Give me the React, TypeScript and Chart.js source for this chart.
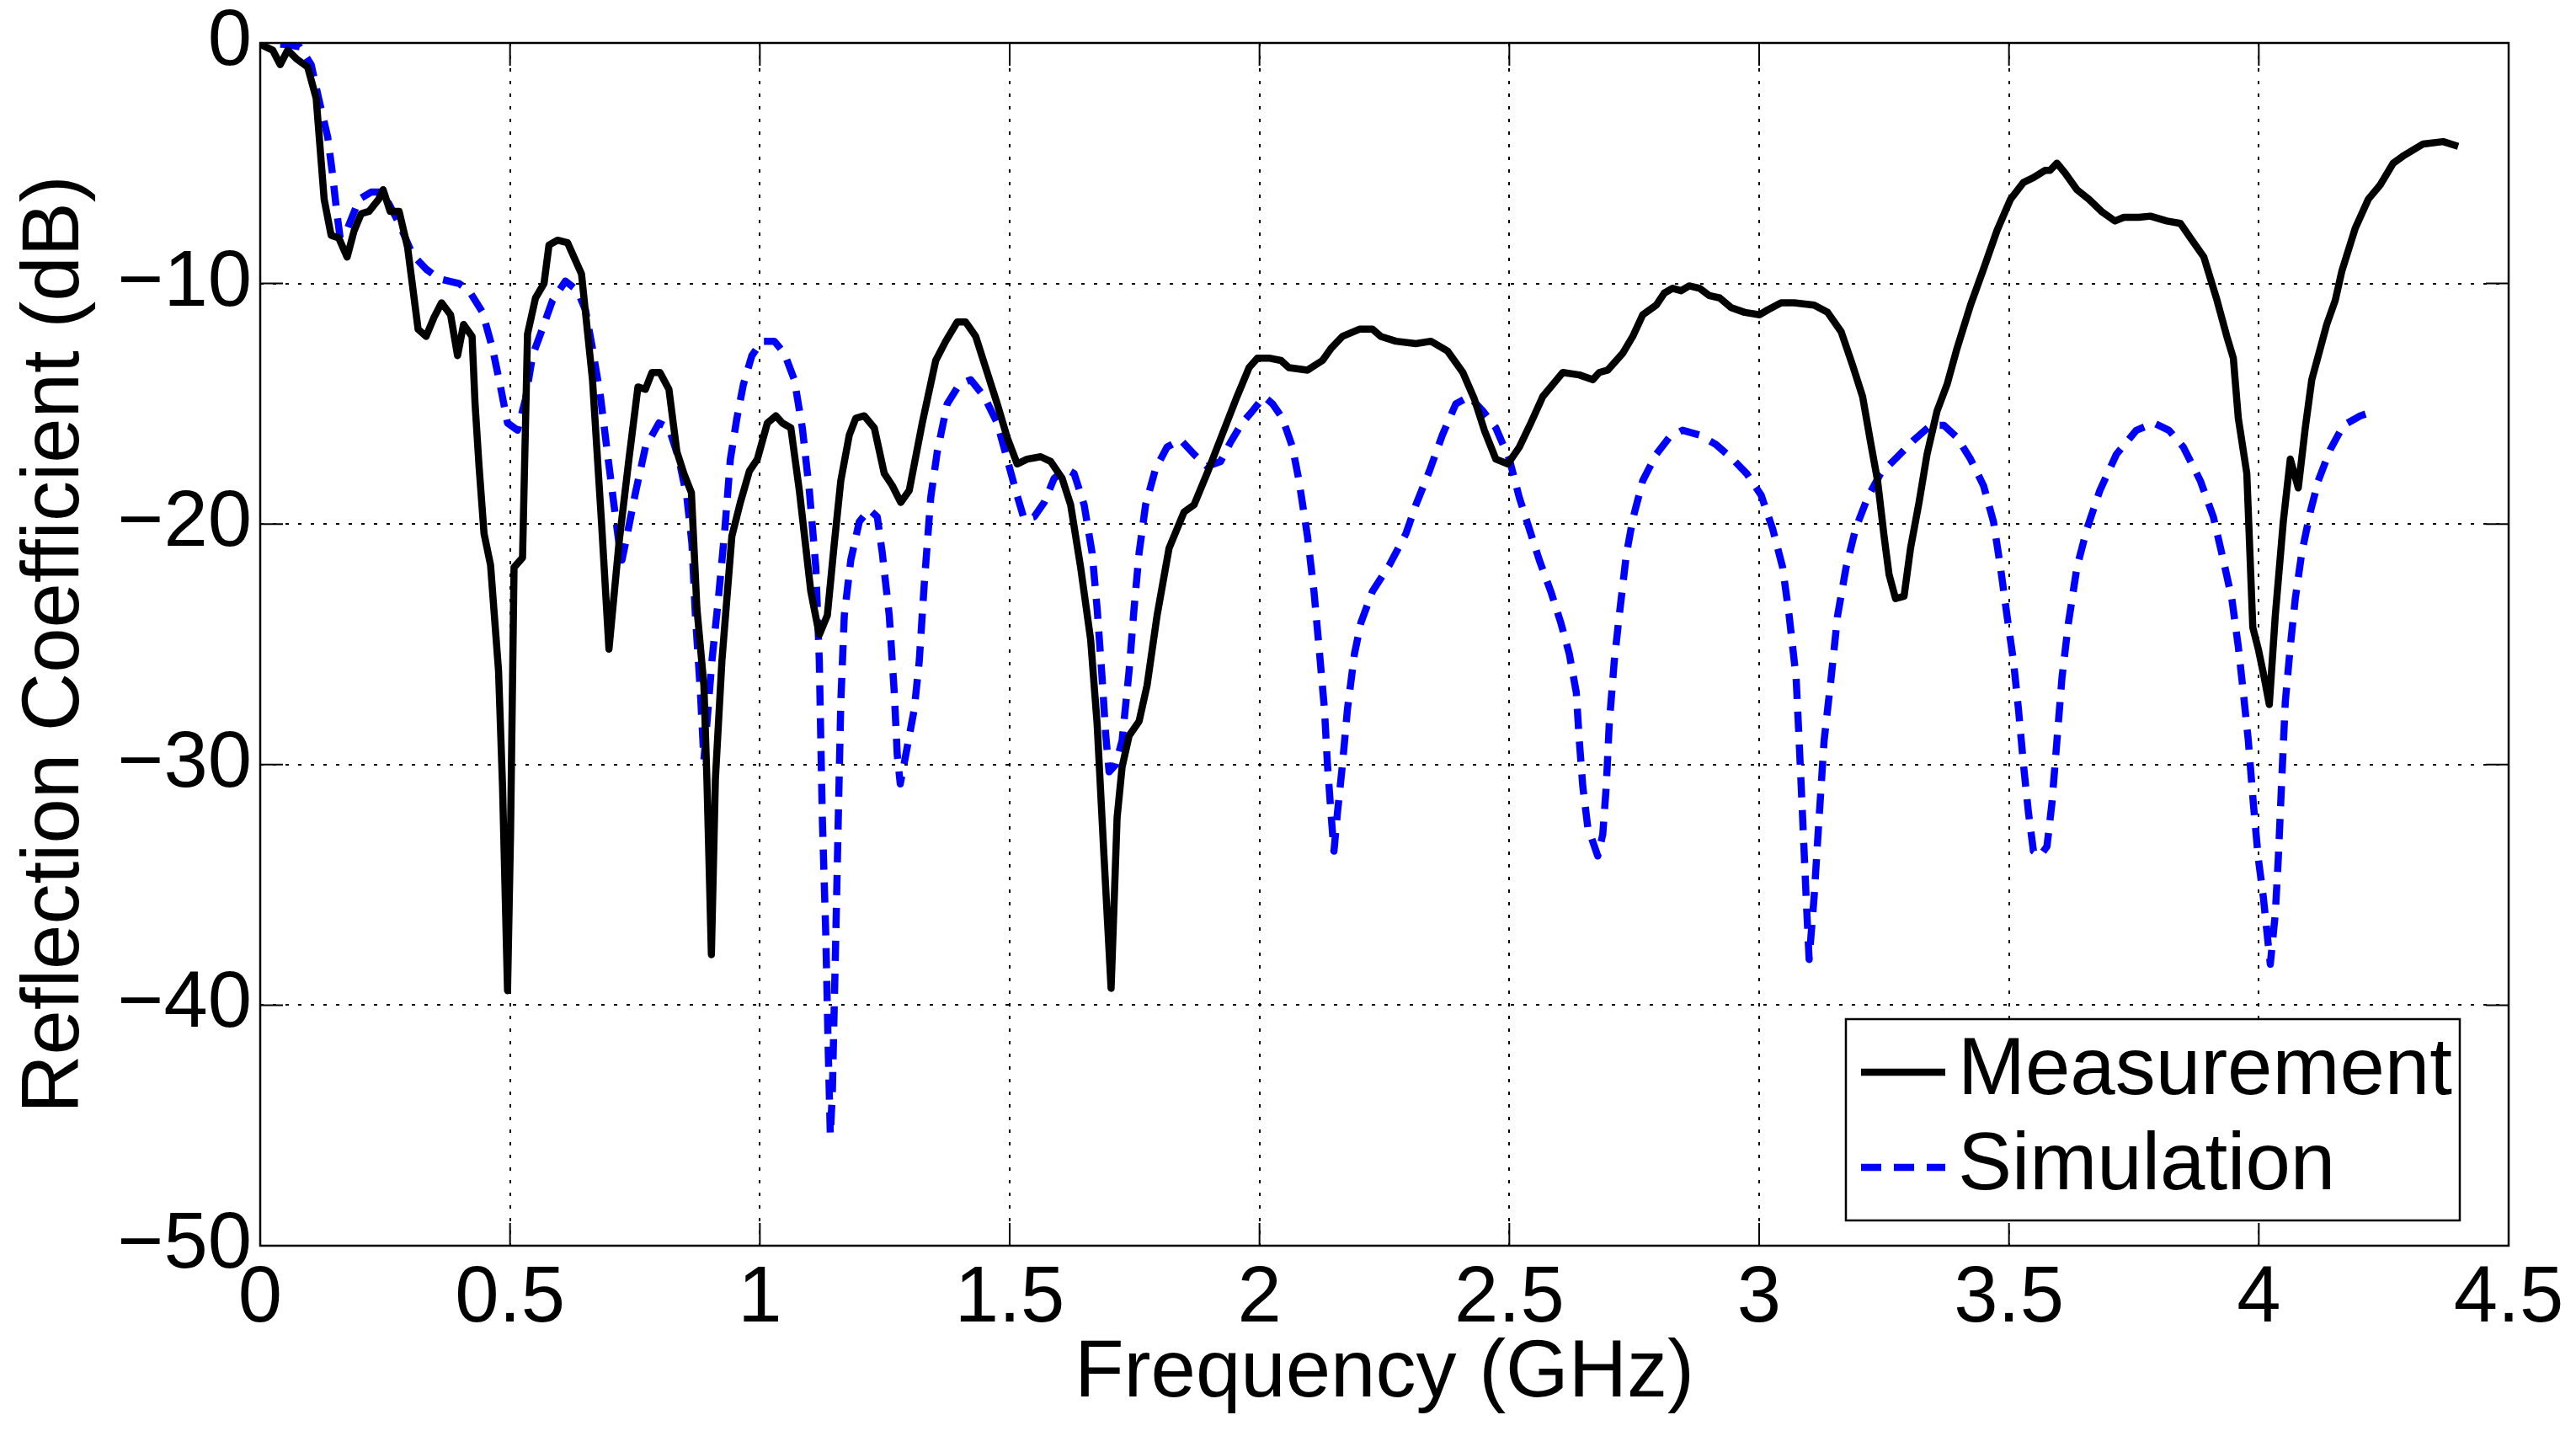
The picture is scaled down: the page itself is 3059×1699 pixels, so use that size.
import { useEffect, useRef } from 'react';
import { Chart, registerables } from 'chart.js';

Chart.register(...registerables);

// Measured reflection coefficient (GHz, dB)
const measFreq = [
  0.0, 0.025, 0.04, 0.055, 0.072, 0.095, 0.112, 0.128, 0.142, 0.157, 0.174, 0.188, 0.202, 0.218, 0.237, 0.246,
  0.26, 0.278, 0.295, 0.316, 0.332, 0.348, 0.363, 0.381, 0.395, 0.407, 0.424, 0.43, 0.438, 0.448, 0.461, 0.477,
  0.485, 0.495, 0.501, 0.508, 0.525, 0.535, 0.551, 0.568, 0.578, 0.595, 0.615, 0.643, 0.665, 0.683, 0.698, 0.718,
  0.738, 0.756, 0.771, 0.784, 0.8, 0.818, 0.834, 0.848, 0.863, 0.874, 0.888, 0.894, 0.903, 0.911, 0.924, 0.944,
  0.961, 0.979, 0.995, 1.015, 1.032, 1.045, 1.062, 1.079, 1.102, 1.119, 1.135, 1.149, 1.162, 1.179, 1.192, 1.209,
  1.229, 1.249, 1.265, 1.282, 1.299, 1.325, 1.352, 1.372, 1.395, 1.412, 1.432, 1.455, 1.475, 1.495, 1.515, 1.535,
  1.562, 1.582, 1.605, 1.622, 1.642, 1.662, 1.675, 1.689, 1.703, 1.715, 1.725, 1.739, 1.759, 1.775, 1.795, 1.819,
  1.849, 1.869, 1.895, 1.925, 1.955, 1.979, 1.996, 2.019, 2.043, 2.059, 2.096, 2.126, 2.143, 2.166, 2.2, 2.226,
  2.243, 2.273, 2.313, 2.343, 2.376, 2.407, 2.43, 2.45, 2.473, 2.497, 2.52, 2.543, 2.567, 2.587, 2.607, 2.64,
  2.667, 2.68, 2.697, 2.727, 2.747, 2.767, 2.794, 2.81, 2.827, 2.844, 2.86, 2.881, 2.9, 2.921, 2.944, 2.971,
  3.001, 3.017, 3.044, 3.07, 3.11, 3.137, 3.164, 3.187, 3.207, 3.223, 3.237, 3.25, 3.26, 3.273, 3.29, 3.303,
  3.32, 3.336, 3.356, 3.376, 3.396, 3.423, 3.449, 3.476, 3.503, 3.529, 3.549, 3.572, 3.582, 3.596, 3.612, 3.636,
  3.66, 3.685, 3.712, 3.73, 3.76, 3.783, 3.816, 3.843, 3.863, 3.89, 3.915, 3.936, 3.949, 3.959, 3.976, 3.988,
  3.999, 4.011, 4.021, 4.033, 4.049, 4.063, 4.079, 4.093, 4.106, 4.123, 4.136, 4.153, 4.166, 4.193, 4.219, 4.243,
  4.269, 4.289, 4.329, 4.369, 4.399,
];
const measDb = [
  -0.05, -0.3, -0.9, -0.3, -0.65, -1.0, -2.3, -6.5, -8.0, -8.1, -8.9, -7.8, -7.1, -7.0, -6.5, -6.1,
  -7.0, -7.0, -8.5, -11.9, -12.2, -11.4, -10.8, -11.3, -13.0, -11.7, -12.2, -15.0, -17.6, -20.4, -21.7, -26.1,
  -30.9, -39.4, -32.9, -21.8, -21.4, -12.1, -10.6, -10.0, -8.4, -8.2, -8.3, -9.6, -14.0, -19.9, -25.2, -20.8,
  -17.3, -14.3, -14.4, -13.7, -13.7, -14.4, -17.0, -17.9, -18.7, -23.5, -26.7, -30.6, -37.9, -30.6, -25.7, -20.5,
  -19.1, -17.8, -17.3, -15.8, -15.5, -15.8, -16.0, -18.6, -22.8, -24.6, -23.8, -20.8, -18.2, -16.3, -15.6, -15.5,
  -16.0, -17.9, -18.4, -19.1, -18.6, -15.8, -13.2, -12.4, -11.6, -11.6, -12.2, -13.7, -15.0, -16.4, -17.5, -17.3,
  -17.2, -17.4, -18.1, -19.2, -21.8, -24.8, -28.3, -33.9, -39.3, -32.2, -30.1, -28.8, -28.2, -26.7, -23.8, -21.0,
  -19.5, -19.2, -17.9, -16.3, -14.7, -13.5, -13.1, -13.1, -13.2, -13.5, -13.6, -13.2, -12.7, -12.2, -11.9, -11.9,
  -12.2, -12.4, -12.5, -12.4, -12.8, -13.7, -14.8, -16.1, -17.3, -17.5, -16.8, -15.8, -14.7, -14.2, -13.7, -13.8,
  -14.0, -13.7, -13.6, -12.9, -12.2, -11.3, -10.9, -10.4, -10.2, -10.3, -10.1, -10.2, -10.5, -10.6, -11.0, -11.2,
  -11.3, -11.1, -10.8, -10.8, -10.9, -11.2, -12.0, -13.4, -14.7, -16.6, -18.2, -20.5, -22.1, -23.1, -23.0, -21.0,
  -19.1, -17.1, -15.3, -14.2, -12.7, -10.9, -9.4, -7.8, -6.5, -5.8, -5.6, -5.3, -5.3, -5.0, -5.4, -6.1,
  -6.5, -7.0, -7.4, -7.25, -7.25, -7.2, -7.4, -7.5, -8.1, -8.9, -10.6, -12.2, -13.1, -15.6, -17.9, -24.3,
  -25.2, -26.4, -27.5, -23.8, -19.9, -17.3, -18.5, -16.0, -14.0, -12.7, -11.7, -10.7, -9.5, -7.7, -6.5, -5.9,
  -5.0, -4.7, -4.2, -4.1, -4.3,
];

// Simulated reflection coefficient (GHz, dB)
const simFreq = [
  0.04, 0.052, 0.079, 0.102, 0.118, 0.135, 0.145, 0.153, 0.16, 0.175, 0.198, 0.222, 0.242, 0.258, 0.278, 0.305,
  0.332, 0.358, 0.398, 0.418, 0.445, 0.465, 0.481, 0.495, 0.515, 0.531, 0.545, 0.561, 0.585, 0.611, 0.635, 0.651,
  0.665, 0.681, 0.694, 0.708, 0.718, 0.724, 0.734, 0.751, 0.771, 0.798, 0.818, 0.838, 0.854, 0.864, 0.871, 0.881,
  0.888, 0.894, 0.904, 0.917, 0.93, 0.941, 0.954, 0.967, 0.984, 1.004, 1.029, 1.049, 1.069, 1.085, 1.099, 1.112,
  1.119, 1.122, 1.125, 1.132, 1.137, 1.141, 1.145, 1.152, 1.157, 1.162, 1.169, 1.182, 1.199, 1.219, 1.235, 1.245,
  1.259, 1.269, 1.275, 1.281, 1.292, 1.309, 1.319, 1.329, 1.342, 1.355, 1.375, 1.399, 1.422, 1.449, 1.475, 1.495,
  1.512, 1.529, 1.549, 1.569, 1.589, 1.612, 1.629, 1.649, 1.665, 1.675, 1.685, 1.692, 1.699, 1.712, 1.725, 1.739,
  1.749, 1.759, 1.772, 1.792, 1.815, 1.842, 1.869, 1.895, 1.922, 1.942, 1.965, 1.986, 2.009, 2.026, 2.046, 2.066,
  2.079, 2.096, 2.109, 2.119, 2.13, 2.136, 2.143, 2.149, 2.156, 2.166, 2.176, 2.19, 2.203, 2.226, 2.26, 2.293,
  2.313, 2.34, 2.366, 2.393, 2.42, 2.447, 2.473, 2.5, 2.52, 2.54, 2.56, 2.583, 2.603, 2.62, 2.634, 2.64,
  2.647, 2.657, 2.677, 2.687, 2.694, 2.7, 2.71, 2.72, 2.734, 2.747, 2.767, 2.794, 2.82, 2.847, 2.881, 2.914,
  2.947, 2.975, 3.004, 3.027, 3.047, 3.06, 3.074, 3.08, 3.087, 3.094, 3.1, 3.11, 3.12, 3.13, 3.144, 3.157,
  3.174, 3.193, 3.217, 3.243, 3.277, 3.31, 3.343, 3.37, 3.396, 3.423, 3.449, 3.469, 3.483, 3.496, 3.509, 3.519,
  3.529, 3.539, 3.549, 3.562, 3.576, 3.586, 3.596, 3.606, 3.619, 3.636, 3.656, 3.682, 3.715, 3.755, 3.79, 3.82,
  3.849, 3.883, 3.909, 3.929, 3.946, 3.959, 3.969, 3.979, 3.989, 3.999, 4.009, 4.023, 4.033, 4.039, 4.046, 4.053,
  4.063, 4.073, 4.086, 4.103, 4.119, 4.143, 4.169, 4.203, 4.233,
];
const simDb = [
  -0.05, -0.06, -0.16, -0.9, -2.4, -3.9, -5.5, -7.0, -8.1, -7.7, -6.5, -6.2, -6.2, -6.7, -7.5, -8.8,
  -9.4, -9.8, -10.0, -10.3, -11.2, -12.7, -14.3, -15.8, -16.1, -14.8, -13.0, -12.1, -10.7, -9.9, -10.3, -11.1,
  -12.7, -14.7, -16.9, -19.2, -20.8, -21.5, -20.5, -18.7, -16.8, -15.8, -16.0, -17.3, -18.9, -20.8, -23.8, -27.0,
  -29.8, -28.3, -25.7, -23.1, -20.2, -17.3, -15.6, -14.2, -13.0, -12.4, -12.4, -12.9, -14.0, -16.0, -18.6, -21.8,
  -25.7, -29.0, -32.2, -37.1, -42.0, -45.4, -43.7, -37.1, -32.2, -27.4, -23.8, -21.5, -19.9, -19.4, -19.7, -21.2,
  -23.8, -27.0, -29.6, -30.8, -29.6, -27.7, -25.7, -22.5, -18.9, -17.0, -15.0, -14.2, -14.0, -14.7, -15.8, -17.3,
  -18.6, -19.8, -19.7, -19.1, -18.1, -17.7, -17.9, -19.2, -21.2, -23.5, -26.4, -28.7, -30.3, -30.0, -29.0, -26.1,
  -23.5, -21.2, -19.2, -17.7, -16.8, -16.5, -17.1, -17.6, -17.4, -16.6, -15.8, -15.3, -14.7, -15.0, -15.6, -16.8,
  -18.2, -20.5, -22.8, -25.1, -27.7, -30.0, -32.0, -33.6, -32.0, -30.0, -27.7, -25.4, -24.1, -22.8, -21.7, -20.4,
  -19.2, -17.8, -16.3, -15.0, -14.7, -15.3, -16.0, -17.3, -18.9, -20.2, -21.5, -22.8, -24.1, -25.4, -27.0, -29.0,
  -30.9, -32.6, -33.8, -32.9, -30.9, -28.3, -25.7, -23.8, -21.3, -19.8, -18.2, -17.1, -16.4, -16.1, -16.3, -16.7,
  -17.3, -17.9, -18.8, -20.2, -21.8, -23.8, -26.4, -29.0, -32.2, -35.5, -38.1, -35.5, -32.2, -29.0, -26.4, -23.8,
  -21.8, -20.2, -18.9, -17.9, -17.2, -16.5, -15.9, -15.9, -16.4, -17.3, -18.4, -19.9, -21.8, -23.8, -25.7, -27.7,
  -30.0, -32.0, -33.6, -33.8, -33.4, -31.6, -29.0, -26.4, -24.1, -21.8, -20.2, -18.6, -17.1, -16.1, -15.8, -16.1,
  -16.8, -18.2, -19.7, -21.5, -23.1, -25.1, -27.0, -29.0, -31.6, -33.9, -35.5, -38.3, -36.2, -33.9, -30.6, -27.4,
  -25.1, -23.1, -21.2, -19.5, -18.2, -16.9, -15.9, -15.5, -15.3,
];

const xTicks = [0, 0.5, 1, 1.5, 2, 2.5, 3, 3.5, 4, 4.5];
const xTickLabels = ['0', '0.5', '1', '1.5', '2', '2.5', '3', '3.5', '4', '4.5'];
const yTicks = [-50, -40, -30, -20, -10, 0];
const yTickLabels = ['\u221250', '\u221240', '\u221230', '\u221220', '\u221210', '0'];

const W = 3059;
const H = 1699;
const FONT = "'Liberation Sans', Arial, Helvetica, sans-serif";
const TICK_LEN = 27;

// inner tick marks on all four sides + axes box, MATLAB style
const boxPlugin = {
  id: 'matlabBox',
  beforeDatasetsDraw(chart: any) {
    const { ctx, chartArea: a, scales } = chart;
    ctx.save();
    ctx.setLineDash([]);
    ctx.strokeStyle = '#000';
    ctx.lineWidth = 2;
    ctx.beginPath();
    xTicks.forEach((v) => {
      const px = scales.x.getPixelForValue(v);
      ctx.moveTo(px, a.bottom);
      ctx.lineTo(px, a.bottom - TICK_LEN);
      ctx.moveTo(px, a.top);
      ctx.lineTo(px, a.top + TICK_LEN);
    });
    yTicks.forEach((v) => {
      const py = scales.y.getPixelForValue(v);
      ctx.moveTo(a.left, py);
      ctx.lineTo(a.left + TICK_LEN, py);
      ctx.moveTo(a.right, py);
      ctx.lineTo(a.right - TICK_LEN, py);
    });
    ctx.stroke();
    ctx.restore();
  },
  afterDatasetsDraw(chart: any) {
    const { ctx, chartArea: a } = chart;
    ctx.save();
    ctx.setLineDash([]);
    ctx.strokeStyle = '#000';
    ctx.lineWidth = 2.5;
    ctx.strokeRect(a.left, a.top, a.right - a.left, a.bottom - a.top);

    // legend box in the lower right corner
    const lw = 729;
    const lh = 239;
    const x0 = a.right - 58 - lw;
    const y0 = a.bottom - 30 - lh;
    ctx.fillStyle = '#fff';
    ctx.fillRect(x0, y0, lw, lh);
    ctx.strokeRect(x0, y0, lw, lh);
    const rows = [63, 176];
    chart.data.datasets.forEach((ds: any, i: number) => {
      const y = y0 + rows[i];
      ctx.strokeStyle = ds.borderColor;
      ctx.lineWidth = ds.borderWidth;
      ctx.setLineDash(ds.borderDash || []);
      ctx.beginPath();
      ctx.moveTo(x0 + 18, y);
      ctx.lineTo(x0 + 118, y);
      ctx.stroke();
      ctx.setLineDash([]);
      ctx.fillStyle = '#000';
      ctx.font = `96px ${FONT}`;
      ctx.textBaseline = 'middle';
      ctx.textAlign = 'left';
      ctx.fillText(ds.label, x0 + 133, y);
    });
    ctx.restore();
  },
};

const ReflectionChart = () => {
  const canvasRef = useRef<HTMLCanvasElement>(null);

  useEffect(() => {
    document.body.style.margin = '0';
    document.body.style.overflow = 'hidden';
    if (!canvasRef.current) return;

    const chart = new Chart(canvasRef.current, {
      type: 'line',
      data: {
        datasets: [
          {
            label: 'Measurement',
            data: measFreq.map((f, i) => ({ x: f, y: measDb[i] })),
            borderColor: '#000000',
            borderWidth: 8.5,
            pointRadius: 0,
            tension: 0,
            fill: false,
            borderJoinStyle: 'round',
          },
          {
            label: 'Simulation',
            data: simFreq.map((f, i) => ({ x: f, y: simDb[i] })),
            borderColor: '#0000ff',
            borderWidth: 8.5,
            borderDash: [24, 15],
            pointRadius: 0,
            tension: 0,
            fill: false,
            borderJoinStyle: 'round',
          },
        ],
      },
      options: {
        responsive: false,
        animation: false,
        events: [],
        layout: { padding: { top: 51, right: W - 2979, left: 0, bottom: 0 } },
        plugins: {
          legend: { display: false },
          tooltip: { enabled: false },
        },
        scales: {
          x: {
            type: 'linear',
            min: 0,
            max: 4.5,
            afterBuildTicks: (scale: any) => {
              scale.ticks = xTicks.map((v) => ({ value: v }));
            },
            afterFit: (scale: any) => {
              scale.height = H - 1479;
              scale.paddingLeft = 0;
              scale.paddingRight = 0;
            },
            ticks: {
              autoSkip: false,
              maxRotation: 0,
              minRotation: 0,
              padding: 8,
              color: '#000',
              font: { family: FONT, size: 94 },
              callback: (v: any) => xTickLabels[xTicks.indexOf(Number(v))] ?? '',
            },
            grid: { color: '#000', lineWidth: 2, drawTicks: false },
            border: { display: false, dash: [4, 11] },
            title: {
              display: true,
              text: 'Frequency (GHz)',
              color: '#000',
              font: { family: FONT, size: 96 },
              padding: { top: 0, bottom: 10 },
            },
          },
          y: {
            type: 'linear',
            min: -50,
            max: 0,
            afterBuildTicks: (scale: any) => {
              scale.ticks = yTicks.map((v) => ({ value: v }));
            },
            afterFit: (scale: any) => {
              scale.width = 309;
              scale.paddingTop = 0;
              scale.paddingBottom = 0;
            },
            ticks: {
              autoSkip: false,
              padding: 10,
              color: '#000',
              font: { family: FONT, size: 94 },
              callback: (v: any) => yTickLabels[yTicks.indexOf(Number(v))] ?? '',
            },
            grid: { color: '#000', lineWidth: 2, drawTicks: false },
            border: { display: false, dash: [4, 11] },
            title: {
              display: true,
              text: 'Reflection Coefficient (dB)',
              color: '#000',
              font: { family: FONT, size: 96 },
              padding: { top: 9, bottom: 0 },
            },
          },
        },
      },
      plugins: [boxPlugin],
    });

    return () => {
      chart.destroy();
    };
  }, []);

  return (
    <div style={{ width: W, height: H, background: '#fff' }}>
      <canvas ref={canvasRef} width={W} height={H} style={{ display: 'block', width: W, height: H }}></canvas>
    </div>
  );
};

export default function App() {
  return <ReflectionChart />;
}
